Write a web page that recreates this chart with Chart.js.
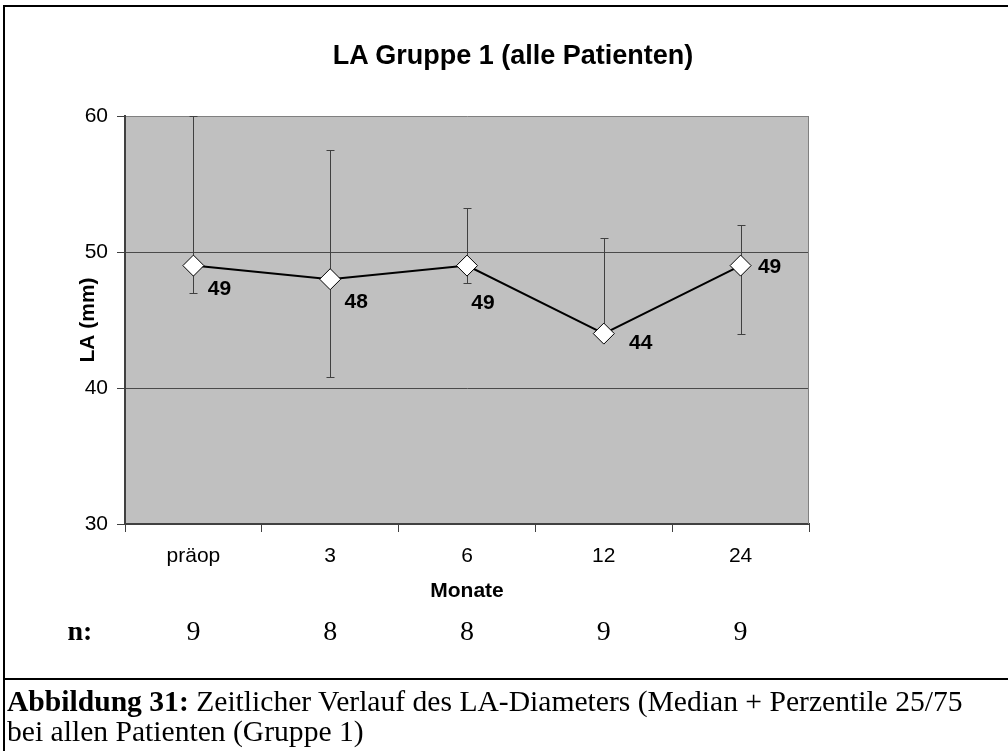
<!DOCTYPE html>
<html><head><meta charset="utf-8">
<script src="https://cdn.jsdelivr.net/npm/chart.js@4.4.1/dist/chart.umd.min.js"></script>
<style>
html,body{margin:0;padding:0;background:#fff;}
#wrap{position:relative;width:1008px;height:751px;overflow:hidden;background:#fff;}
#c{position:absolute;left:0;top:0;}
.ln{position:absolute;background:#000;}
#title{position:absolute;left:0;width:1026px;top:40px;line-height:32px;text-align:center;font:bold 27px "Liberation Sans",Arial,sans-serif;color:#000;white-space:nowrap;}
.n{position:absolute;top:615px;line-height:32px;font:28px "Liberation Serif","Times New Roman",serif;color:#000;transform:translateX(-50%);white-space:nowrap;}
#caption{position:absolute;left:7px;top:686px;width:1000px;font:29.6px "Liberation Serif","Times New Roman",serif;line-height:30px;color:#000;white-space:nowrap;}
</style></head>
<body>
<div id="wrap">
<canvas id="c" width="1008" height="680"></canvas>
<div class="ln" style="left:3px;top:5px;width:1005px;height:2px"></div>
<div class="ln" style="left:3px;top:5px;width:2px;height:746px"></div>
<div class="ln" style="left:3px;top:678px;width:1005px;height:2px"></div>
<div id="title">LA Gruppe 1 (alle Patienten)</div>
<div id="nrow"></div>
<div id="caption"><b>Abbildung 31:</b> Zeitlicher Verlauf des LA-Diameters (Median + Perzentile 25/75<br>bei allen Patienten (Gruppe 1)</div>
</div>
<script>
const categories = ['präop', '3', '6', '12', '24'];
const medianValues = [49, 48, 49, 44, 49];
const p75Values = [60, 57.5, 53.2, 51.0, 52.0];
const p25Values = [47.0, 40.8, 47.7, 44.0, 44.0];
const nValues = [9, 8, 8, 9, 9];
const yTicks = [30, 40, 50, 60];

// label placement (pixel offsets from each marker), styling only
const labelOffsets = [[26, 24], [26, 23], [16, 38], [37, 10], [29, 2]];

const SANS = '"Liberation Sans", Arial, sans-serif';

const bgPlugin = {
  id: 'bg',
  beforeDraw(chart) {
    const {ctx, chartArea: a} = chart;
    ctx.save();
    ctx.fillStyle = '#C0C0C0';
    ctx.fillRect(a.left, a.top, a.right - a.left, a.bottom - a.top);
    ctx.restore();
  }
};

const errPlugin = {
  id: 'err',
  beforeDatasetsDraw(chart) {
    const {ctx, chartArea: a, scales: {x, y}} = chart;
    ctx.save();
    ctx.strokeStyle = '#808080';
    ctx.lineWidth = 1;
    ctx.beginPath();
    ctx.moveTo(Math.round(a.right) - 0.5, a.top);
    ctx.lineTo(Math.round(a.right) - 0.5, a.bottom);
    ctx.stroke();
    ctx.strokeStyle = '#404040';
    ctx.lineWidth = 1;
    categories.forEach((c, i) => {
      const px = Math.round(x.getPixelForValue(i)) + 0.5;
      const yt = Math.round(y.getPixelForValue(p75Values[i])) + 0.5;
      const yb = Math.round(y.getPixelForValue(p25Values[i])) + 0.5;
      ctx.beginPath();
      ctx.moveTo(px, yt); ctx.lineTo(px, yb);
      ctx.moveTo(px - 4, yt); ctx.lineTo(px + 4, yt);
      ctx.moveTo(px - 4, yb); ctx.lineTo(px + 4, yb);
      ctx.stroke();
    });
    ctx.restore();
  }
};

const labelPlugin = {
  id: 'lbl',
  afterDatasetsDraw(chart) {
    const {ctx, scales: {x, y}} = chart;
    ctx.save();
    ctx.font = 'bold 21px ' + SANS;
    ctx.fillStyle = '#000';
    ctx.textAlign = 'center';
    ctx.textBaseline = 'middle';
    medianValues.forEach((v, i) => {
      const px = x.getPixelForValue(i) + labelOffsets[i][0];
      const py = y.getPixelForValue(v) + labelOffsets[i][1];
      ctx.fillText(String(v), px, py);
    });
    ctx.restore();
  }
};

const chart = new Chart(document.getElementById('c'), {
  type: 'line',
  data: {
    labels: categories,
    datasets: [{
      data: medianValues,
      borderColor: '#000',
      borderWidth: 2,
      pointStyle: 'rectRot',
      pointRadius: 10.5,
      pointBackgroundColor: '#fff',
      pointBorderColor: '#000',
      pointBorderWidth: 1,
      tension: 0,
      clip: false
    }]
  },
  options: {
    responsive: false,
    animation: false,
    events: [],
    layout: {padding: {left: 0, right: 199, top: 116, bottom: 76}},
    plugins: {legend: {display: false}, tooltip: {enabled: false}, title: {display: false}},
    scales: {
      x: {
        offset: true,
        grid: {offset: true, drawOnChartArea: false, drawTicks: true, tickLength: 8, color: '#404040'},
        border: {color: '#404040', width: 2},
        ticks: {padding: 12, color: '#000', font: {family: SANS, size: 21}},
        title: {display: true, text: 'Monate', color: '#000', font: {family: SANS, size: 21, weight: 'bold'}, padding: {top: 0, bottom: 0}},
        afterFit(s) { s.height = 80; }
      },
      y: {
        min: 30, max: 60,
        afterBuildTicks(s) { s.ticks = yTicks.map(v => ({value: v})); },
        grid: {
          drawTicks: true, tickLength: 8, tickColor: '#404040',
          color: (c) => c.tick && c.tick.value === 60 ? '#808080' : '#4a4a4a',
          lineWidth: 1
        },
        border: {color: '#404040', width: 2},
        ticks: {padding: 9, color: '#000', font: {family: SANS, size: 21}},
        title: {display: true, text: 'LA (mm)', color: '#000', font: {family: SANS, size: 21, weight: 'bold'}, padding: {top: 76, bottom: 0}},
        afterFit(s) { s.width = 125; }
      }
    }
  },
  plugins: [bgPlugin, errPlugin, labelPlugin]
});

const nrow = document.getElementById('nrow');
const nl = document.createElement('div');
nl.className = 'n';
nl.style.left = '80px';
nl.innerHTML = '<b>n:</b>';
nrow.appendChild(nl);
nValues.forEach((v, i) => {
  const d = document.createElement('div');
  d.className = 'n';
  d.style.left = chart.scales.x.getPixelForValue(i) + 'px';
  d.textContent = String(v);
  nrow.appendChild(d);
});
</script>
</body></html>
